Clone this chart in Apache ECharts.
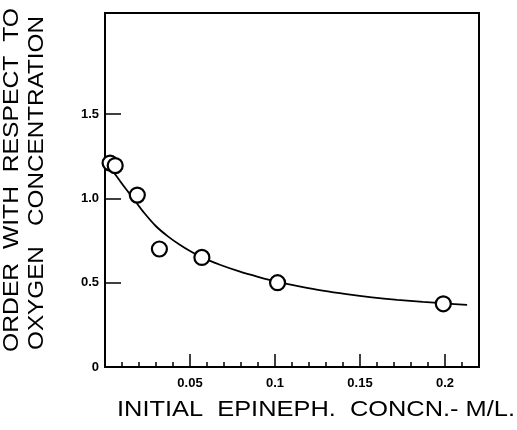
<!DOCTYPE html>
<html>
<head>
<meta charset="utf-8">
<script src="https://cdn.jsdelivr.net/npm/echarts@6/dist/echarts.min.js"></script>
<style>
  html, body { margin: 0; padding: 0; background: #fff; }
  #chart { width: 517px; height: 430px; }
</style>
</head>
<body>
<div id="chart"></div>
<script>
// measured points (open circles)
var pointX = [0.003, 0.006, 0.019, 0.032, 0.057, 0.1015, 0.199];
var pointY = [1.21, 1.195, 1.02, 0.70, 0.65, 0.50, 0.375];

// fitted curve
var curveX = [0.004, 0.008, 0.012, 0.017, 0.023, 0.03, 0.037, 0.044, 0.05, 0.057, 0.068, 0.079, 0.09, 0.1015, 0.115, 0.128, 0.142, 0.157, 0.172, 0.187, 0.2, 0.213];
var curveY = [1.17, 1.115, 1.06, 0.995, 0.915, 0.835, 0.775, 0.725, 0.688, 0.65, 0.605, 0.567, 0.535, 0.505, 0.477, 0.453, 0.432, 0.413, 0.398, 0.386, 0.377, 0.369];

var xTickLabels = [0.05, 0.1, 0.15, 0.2];
var yTickLabels = [0, 0.5, 1.0, 1.5];

var xName = 'INITIAL  EPINEPH.  CONCN.- M/L.';
var yName1 = 'ORDER  WITH  RESPECT  TO';
var yName2 = 'OXYGEN   CONCENTRATION';

var font = '"Liberation Sans", Arial, sans-serif';

// stretch a title along its length so it spans the same room as the scan
var ctx = document.createElement('canvas').getContext('2d');
function stretch(text, size, target) {
  ctx.font = size + 'px ' + font;
  return target / ctx.measureText(text).width;
}

var chart = echarts.init(document.getElementById('chart'));

var pts = pointX.map(function (x, i) { return [x, pointY[i]]; });
var curve = curveX.map(function (x, i) { return [x, curveY[i]]; });

chart.setOption({
  animation: false,
  backgroundColor: '#fff',
  grid: {
    left: 105, top: 13, right: 38, bottom: 63,
    show: true, borderColor: '#000', borderWidth: 2
  },
  xAxis: [{
    type: 'value', min: 0, max: 0.22, interval: 0.01,
    axisLine: { show: false },
    splitLine: { show: false },
    axisTick: { show: true, inside: true, length: 5, lineStyle: { color: '#000', width: 1.5 } },
    axisLabel: {
      show: true, customValues: xTickLabels, margin: 10,
      color: '#000', fontSize: 13, fontFamily: font, fontWeight: 'bold',
      formatter: function (v) { return String(+v.toFixed(2)); }
    }
  }, {
    type: 'value', min: 0, max: 0.22, position: 'bottom',
    axisLine: { show: false },
    splitLine: { show: false },
    axisLabel: { show: false },
    axisTick: { show: true, inside: true, length: 13, customValues: xTickLabels, lineStyle: { color: '#000', width: 1.5 } }
  }],
  yAxis: {
    type: 'value', min: 0, max: 2.1, interval: 0.5,
    axisLine: { show: false },
    splitLine: { show: false },
    axisTick: { show: true, inside: true, length: 16, customValues: [0.5, 1.0, 1.5], lineStyle: { color: '#000', width: 1.5 } },
    axisLabel: {
      customValues: yTickLabels, margin: 6,
      color: '#000', fontSize: 13, fontFamily: font, fontWeight: 'bold',
      formatter: function (v) { return v === 0 ? '0' : v.toFixed(1); }
    }
  },
  series: [{
    type: 'line', data: curve, smooth: 0.3, showSymbol: false, symbol: 'none',
    lineStyle: { color: '#000', width: 1.8 }, z: 2
  }, {
    type: 'scatter', data: pts, symbol: 'circle', symbolSize: 15,
    itemStyle: { color: '#fff', borderColor: '#000', borderWidth: 2.2, opacity: 1 }, z: 3
  }],
  graphic: [{
    type: 'text', x: 117, y: 410, scaleX: stretch(xName, 22, 398),
    style: { text: xName, fontSize: 22, fontFamily: font, fill: '#000', textVerticalAlign: 'middle' }
  }, {
    type: 'text', x: 12, y: 352, rotation: Math.PI / 2, scaleX: stretch(yName1, 22, 344),
    style: { text: yName1, fontSize: 22, fontFamily: font, fill: '#000', textVerticalAlign: 'middle' }
  }, {
    type: 'text', x: 37, y: 350, rotation: Math.PI / 2, scaleX: stretch(yName2, 22, 334),
    style: { text: yName2, fontSize: 22, fontFamily: font, fill: '#000', textVerticalAlign: 'middle' }
  }]
});
</script>
</body>
</html>
